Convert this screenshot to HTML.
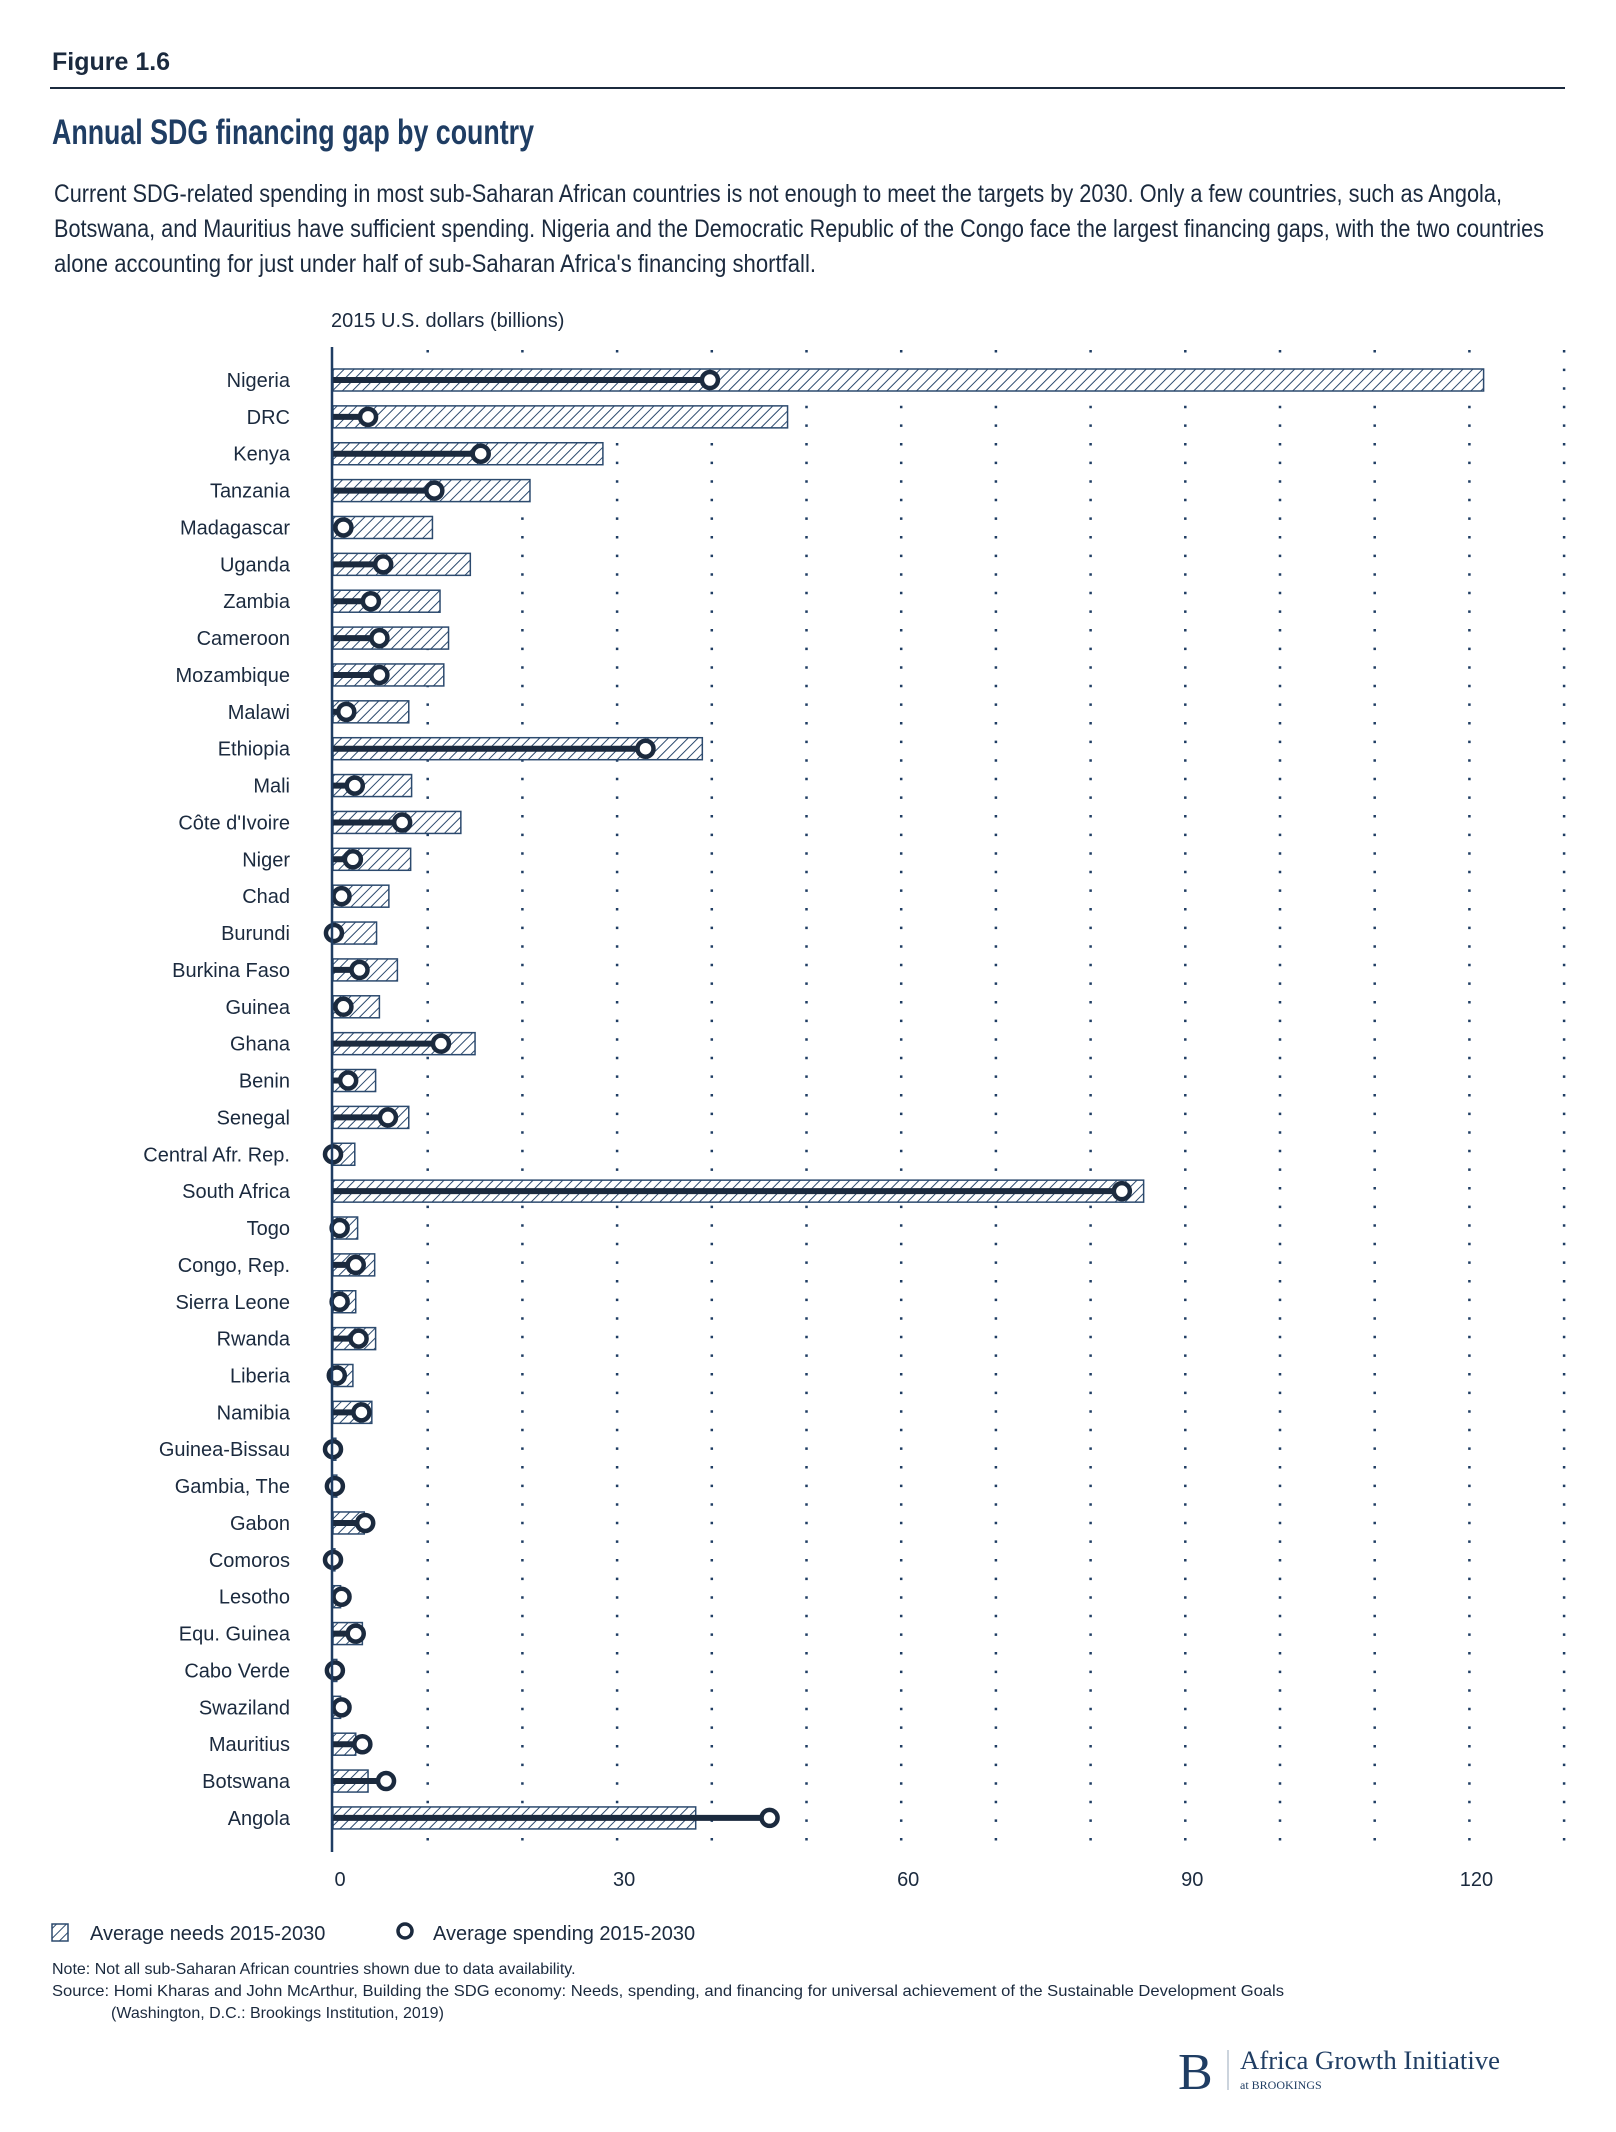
<!DOCTYPE html>
<html><head><meta charset="utf-8"><style>
html,body{margin:0;padding:0;background:#fff;}
svg{display:block;}
.t{font-family:"Liberation Sans Narrow","Liberation Sans",sans-serif;}
</style></head><body>
<svg id="fig" width="1616" height="2132" viewBox="0 0 1616 2132" xmlns="http://www.w3.org/2000/svg">
<defs>
<pattern id="hatch" patternUnits="userSpaceOnUse" width="7" height="7" patternTransform="rotate(45)">
<rect width="7" height="7" fill="#fff"/>
<line x1="0" y1="0" x2="0" y2="7" stroke="#2c4a6e" stroke-width="2"/>
</pattern>
</defs>
<text class="t" x="52" y="70" font-size="25" font-weight="bold" fill="#1b2a3e">Figure 1.6</text>
<line x1="50" y1="88" x2="1565" y2="88" stroke="#1b2a3e" stroke-width="2"/>
<text class="t" x="52" y="144" font-size="35" font-weight="bold" fill="#1f3d63" textLength="482" lengthAdjust="spacingAndGlyphs">Annual SDG financing gap by country</text>
<g class="t" font-size="25" fill="#1b2a3e">
<text x="54" y="202" textLength="1448" lengthAdjust="spacingAndGlyphs">Current SDG-related spending in most sub-Saharan African countries is not enough to meet the targets by 2030. Only a few countries, such as Angola,</text>
<text x="54" y="237" textLength="1490" lengthAdjust="spacingAndGlyphs">Botswana, and Mauritius have sufficient spending. Nigeria and the Democratic Republic of the Congo face the largest financing gaps, with the two countries</text>
<text x="54" y="272" textLength="762" lengthAdjust="spacingAndGlyphs">alone accounting for just under half of sub-Saharan Africa's financing shortfall.</text>
</g>
<text class="t" x="331" y="327" font-size="20" fill="#1b2a3e">2015 U.S. dollars (billions)</text>
<g id="grid"></g>
<g id="bars"></g>
<g id="labels"></g>
<g id="ticks"></g>
<line x1="332" y1="347" x2="332" y2="1852" stroke="#1f3d63" stroke-width="2.5"/>
<g>
<g>
<rect x="52" y="1924" width="16" height="17" fill="url(#hatch)" stroke="#2c4a6e" stroke-width="1.5"/>
<text class="t" x="90" y="1940" font-size="20" fill="#1b2a3e">Average needs 2015-2030</text>
</g>
<g>
<circle cx="405" cy="1931" r="7" fill="#fff" stroke="#1b2a3e" stroke-width="3.5"/>
<text class="t" x="433" y="1940" font-size="20" fill="#1b2a3e">Average spending 2015-2030</text>
</g>
</g>
<g class="t" font-size="16" fill="#1b2a3e">
<text x="52" y="1974">Note: Not all sub-Saharan African countries shown due to data availability.</text>
<text x="52" y="1996" textLength="1232" lengthAdjust="spacingAndGlyphs">Source: Homi Kharas and John McArthur, Building the SDG economy: Needs, spending, and financing for universal achievement of the Sustainable Development Goals</text>
<text x="111" y="2018">(Washington, D.C.: Brookings Institution, 2019)</text>
</g>
<g>
<text x="1178" y="2089" font-family="Liberation Serif,serif" font-size="52" fill="#1f3d63">B</text>
<line x1="1228" y1="2050" x2="1228" y2="2090" stroke="#9aa8bb" stroke-width="1"/>
<text x="1240" y="2069" font-family="Liberation Serif,serif" font-size="26" fill="#1f3d63" textLength="260" lengthAdjust="spacingAndGlyphs">Africa Growth Initiative</text>
<text x="1240" y="2089" font-family="Liberation Serif,serif" font-size="12" fill="#1f3d63">at BROOKINGS</text>
</g>
</svg>
<script>
const countries=["Nigeria","DRC","Kenya","Tanzania","Madagascar","Uganda","Zambia","Cameroon","Mozambique","Malawi","Ethiopia","Mali","Côte d'Ivoire","Niger","Chad","Burundi","Burkina Faso","Guinea","Ghana","Benin","Senegal","Central Afr. Rep.","South Africa","Togo","Congo, Rep.","Sierra Leone","Rwanda","Liberia","Namibia","Guinea-Bissau","Gambia, The","Gabon","Comoros","Lesotho","Equ. Guinea","Cabo Verde","Swaziland","Mauritius","Botswana","Angola"];
const needs=[121.5,48.0,28.5,20.8,10.5,14.5,11.3,12.2,11.7,8.0,39.0,8.3,13.5,8.2,5.9,4.6,6.8,4.9,15.0,4.5,8.0,2.3,85.6,2.6,4.4,2.4,4.5,2.1,4.1,0.3,0.4,3.3,0.2,0.8,3.1,0.4,0.8,2.4,3.7,38.3];
const spending=[39.8,3.7,15.6,10.7,1.1,5.3,4.0,4.9,4.9,1.4,33.0,2.3,7.3,2.1,0.9,0.1,2.8,1.1,11.4,1.6,5.8,0,83.3,0.7,2.4,0.7,2.7,0.4,3.0,0,0.2,3.4,0,0.9,2.4,0.2,0.9,3.1,5.6,46.1];
const tickValues=[0,30,60,90,120];
const gridValues=[10,20,30,40,50,60,70,80,90,100,110,120,130];

const NS="http://www.w3.org/2000/svg";
const x0=333, unit=9.47;
const xs=v=>x0+v*unit;
const ys=i=>380+i*36.87;
function mk(tag,attrs,parent){const e=document.createElementNS(NS,tag);for(const k in attrs)e.setAttribute(k,attrs[k]);parent.appendChild(e);return e;}
const grid=document.getElementById('grid'),bars=document.getElementById('bars'),labels=document.getElementById('labels'),ticks=document.getElementById('ticks');
gridValues.forEach(v=>{
  const l=mk('line',{x1:xs(v),x2:xs(v),y1:350,y2:1852,stroke:'#1f3d63','stroke-width':2.5,'stroke-dasharray':'2.5 16.1'},grid);
  
  
});
countries.forEach((c,i)=>{
  const y=ys(i);
  const g=mk('g',{},bars);
  
  
  const b=mk('rect',{x:x0,y:y-11,width:Math.max(needs[i]*unit,0.5),height:22,fill:'url(#hatch)',stroke:'#2c4a6e','stroke-width':1.5},g);
  
  
  const ln=mk('line',{x1:x0,x2:xs(spending[i]),y1:y,y2:y,stroke:'#1b2a3e','stroke-width':6},g);
  
  
  const ci=mk('circle',{cx:xs(spending[i]),cy:y,r:8,fill:'#fff',stroke:'#1b2a3e','stroke-width':4.5},g);
  
  
  const t=mk('text',{x:290,y:y+7,'text-anchor':'end','font-size':20,fill:'#1b2a3e','class':'t'},labels);
  t.textContent=c;
  
  
});
tickValues.forEach(v=>{
  const t=mk('text',{x:xs(v)+7,y:1886,'text-anchor':'middle','font-size':20,fill:'#1b2a3e','class':'t'},ticks);
  t.textContent=v;
  
  
});
</script>
</body></html>
